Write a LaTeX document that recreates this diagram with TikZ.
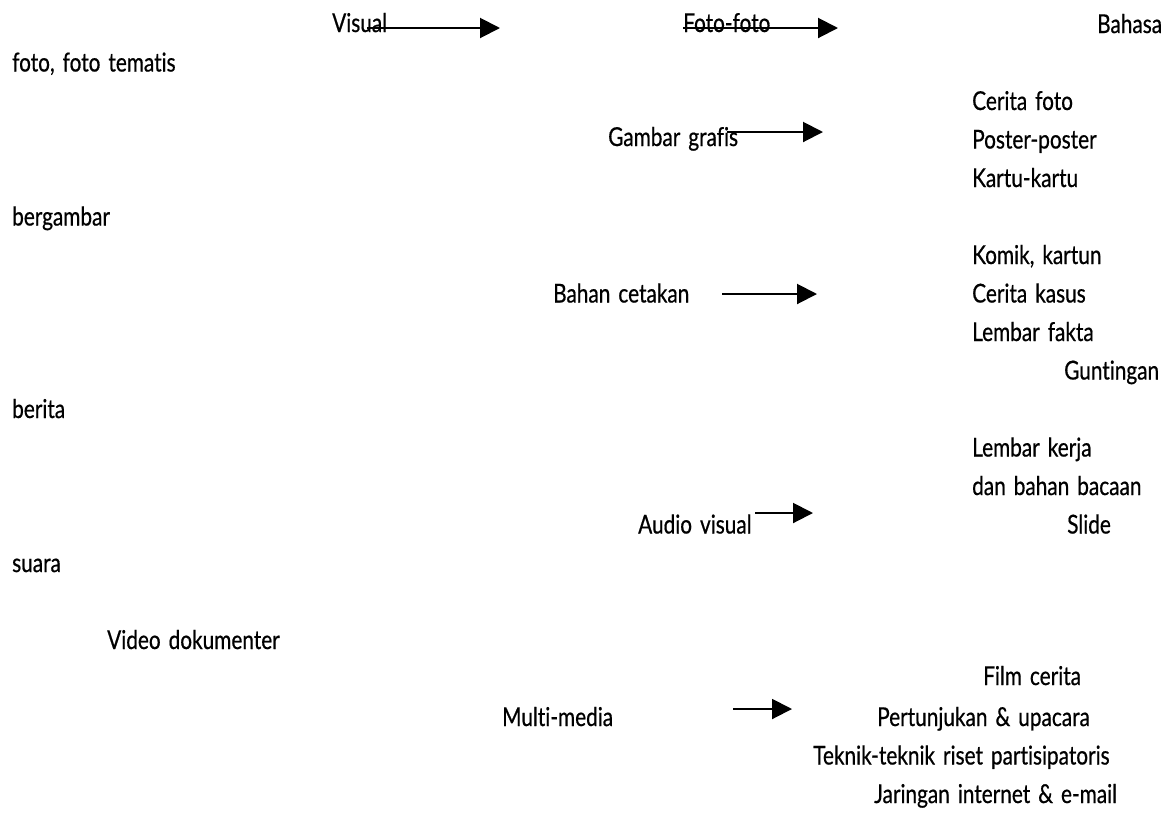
\documentclass[tikz,border=0pt]{standalone}
\usepackage{fontspec}
\setmainfont{Lato}[FakeStretch=0.8, WordSpace=1.5, FakeBold=0.6, Ligatures=NoCommon]
\usetikzlibrary{arrows.meta}
\tikzset{
  lbl/.style={anchor=base west, inner sep=0pt, font=\fontsize{26}{31}\selectfont},
  arr/.style={line width=2pt, -{Triangle[length=20pt,width=20pt]}}
}
\begin{document}
\begin{tikzpicture}[x=1pt,y=-1pt]
\useasboundingbox (0,0) rectangle (1169,812);
% top row
\node[lbl] (visual) at (332,32) {Visual};
\node[lbl] (foto) at (683,32) {Foto-foto};
\node[lbl] (bahasa) at (1097,33) {Bahasa};
% left column
\node[lbl] (fft) at (12,71.5) {foto, foto tematis};
\node[lbl] (berg) at (12,225.5) {bergambar};
\node[lbl] (berita) at (12,418) {berita};
\node[lbl] (suara) at (12,572) {suara};
\node[lbl] (video) at (107,649) {Video dokumenter};
% middle column
\node[lbl] (grafis) at (608,146) {Gambar grafis};
\node[lbl] (cetak) at (553,302.5) {Bahan cetakan};
\node[lbl] (audio) at (638,533.5) {Audio visual};
\node[lbl] (multi) at (502,726) {Multi-media};
% right column
\node[lbl] (cfoto) at (972,110) {Cerita foto};
\node[lbl] (poster) at (972,148.5) {Poster-poster};
\node[lbl] (kartu) at (972,187) {Kartu-kartu};
\node[lbl] (komik) at (972,264) {Komik, kartun};
\node[lbl] (kasus) at (972,302.5) {Cerita kasus};
\node[lbl] (fakta) at (972,341) {Lembar fakta};
\node[lbl] (gunting) at (1064,379.5) {Guntingan};
\node[lbl] (kerja) at (972,456.5) {Lembar kerja};
\node[lbl] (bacaan) at (972,495) {dan bahan bacaan};
\node[lbl] (slide) at (1067,533.5) {Slide};
\node[lbl] (film) at (983,685) {Film cerita};
\node[lbl] (pertunjukan) at (877,726) {Pertunjukan \& upacara};
\node[lbl] (teknik) at (813,764.5) {Teknik-teknik riset partisipatoris};
\node[lbl] (jaringan) at (874,803) {Jaringan internet \& e-mail};
% arrow ends
\coordinate (a1s) at (367,28);  \coordinate (a1e) at (500,28);
\coordinate (a2s) at (683,28);  \coordinate (a2e) at (838,28);
\coordinate (a3s) at (727,132); \coordinate (a3e) at (823,132);
\coordinate (a4s) at (722,294); \coordinate (a4e) at (817,294);
\coordinate (a5s) at (755,513); \coordinate (a5e) at (813,513);
\coordinate (a6s) at (733,709); \coordinate (a6e) at (792,709);
\draw[arr] (a1s) -- (a1e);
\draw[arr] (a2s) -- (a2e);
\draw[arr] (a3s) -- (a3e);
\draw[arr] (a4s) -- (a4e);
\draw[arr] (a5s) -- (a5e);
\draw[arr] (a6s) -- (a6e);
\end{tikzpicture}
\end{document}
